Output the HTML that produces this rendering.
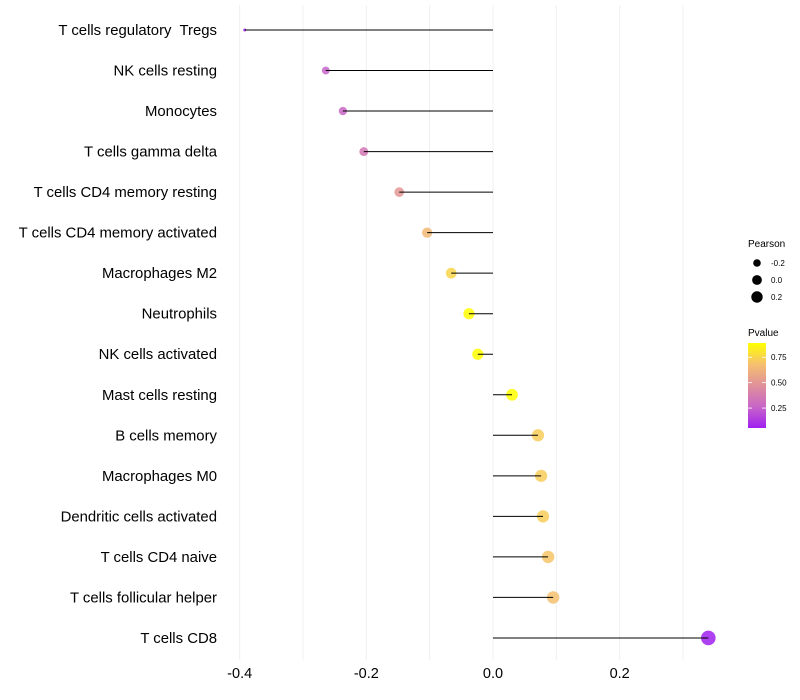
<!DOCTYPE html>
<html><head><meta charset="utf-8"><style>
body{margin:0;background:#fff;}
svg{display:block;font-family:"Liberation Sans",sans-serif;}
</style></head><body>
<svg id="chart" width="800" height="700">
<g id="grid"></g>
<g id="marks"></g>
<g id="labels"></g>
<g id="ticks"></g>
<g>
<text x="748" y="247" font-size="10" fill="#000">Pearson</text>
<g id="sizeLegend"></g>
</g>
<g>
<text x="748" y="336" font-size="10" fill="#000">Pvalue</text>
<defs><linearGradient id="pg" x1="0" y1="1" x2="0" y2="0">
<stop offset="0" stop-color="#a020f0"/><stop offset="0.25" stop-color="#c865c8"/><stop offset="0.5" stop-color="#e0909a"/><stop offset="0.75" stop-color="#f5c070"/><stop offset="1" stop-color="#ffff00"/></linearGradient></defs>
<rect x="748" y="343" width="18" height="85" fill="url(#pg)"/>
<g id="cbTicks"></g>
</g>
</svg>
<script>
const categories=["T cells regulatory\u00a0 Tregs","NK cells resting","Monocytes","T cells gamma delta","T cells CD4 memory resting","T cells CD4 memory activated","Macrophages M2","Neutrophils","NK cells activated","Mast cells resting","B cells memory","Macrophages M0","Dendritic cells activated","T cells CD4 naive","T cells follicular helper","T cells CD8"];
const pearson=[-0.392,-0.264,-0.237,-0.204,-0.148,-0.104,-0.066,-0.038,-0.024,0.030,0.071,0.076,0.079,0.087,0.095,0.340];
const pvalues=[0.05,0.25,0.27,0.35,0.5,0.65,0.75,0.93,0.97,0.95,0.72,0.72,0.72,0.7,0.68,0.03];
const xTicks=[-0.4,-0.2,0.0,0.2];
const xGrid=[-0.4,-0.3,-0.2,-0.1,0.0,0.1,0.2,0.3];
const sizeLegendValues=[-0.2,0.0,0.2];
const cbTickValues=[0.25,0.5,0.75];

const NS="http://www.w3.org/2000/svg";
function x(v){return 493+v*633.3;}
function y(i){return 30+i*40.53;}
function r(v){return 1.5+5.8*Math.sqrt(Math.max(0,(v+0.392)/0.732));}
function cbY(p){return 428-(p-0.054)/0.836*85;}
function hex(c){return [parseInt(c.slice(1,3),16),parseInt(c.slice(3,5),16),parseInt(c.slice(5,7),16)];}
const stops=["#a020f0","#c865c8","#e0909a","#f5c070","#ffff00"].map(hex);
function col(p){const t=Math.max(0,Math.min(1,(p-0.054)/0.836));
 const f=t*4,k=Math.min(3,Math.floor(f)),u=f-k,s=stops[k],e=stops[k+1];
 return "rgb("+s.map((v,j)=>Math.round(v+(e[j]-v)*u)).join(",")+")";}
function mk(tag,at,parent,text){const el=document.createElementNS(NS,tag);for(const k in at)el.setAttribute(k,at[k]);if(text!=null)el.textContent=text;parent.appendChild(el);return el;}

const grid=document.getElementById("grid");
xGrid.forEach(v=>{const l=mk("line",{x1:x(v),x2:x(v),y1:5,y2:660,stroke:"#f0f0f0","stroke-width":1},grid);

});
const ticks=document.getElementById("ticks");
xTicks.forEach(v=>{const t=mk("text",{x:x(v),y:678,"font-size":14.5,"text-anchor":"middle",fill:"#000"},ticks,v.toFixed(1));

});
const marks=document.getElementById("marks"),labels=document.getElementById("labels");
categories.forEach((c,i)=>{
 const pt=mk("circle",{cx:x(pearson[i]),cy:y(i),r:r(pearson[i]),fill:col(pvalues[i]),"fill-opacity":0.85},marks);
 
 
 const ln=mk("line",{x1:x(0),x2:x(pearson[i]),y1:y(i),y2:y(i),stroke:"#000","stroke-width":1},marks);
 
 
 const lb=mk("text",{x:217,y:y(i)+5,"font-size":14.9,"text-anchor":"end",fill:"#000"},labels,c);
 
 
});
const sl=document.getElementById("sizeLegend");
sizeLegendValues.forEach((v,k)=>{const yy=263+k*17;
 const c=mk("circle",{cx:757,cy:yy,r:r(v)*0.85,fill:"#000"},sl);
 
 
 const t=mk("text",{x:771,y:yy+3,"font-size":8,fill:"#000"},sl,v.toFixed(1));
 
 });
const cb=document.getElementById("cbTicks");
cbTickValues.forEach(p=>{const yy=cbY(p);
 mk("line",{x1:748,x2:752,y1:yy,y2:yy,stroke:"#fff","stroke-width":0.8},cb);
 mk("line",{x1:762,x2:766,y1:yy,y2:yy,stroke:"#fff","stroke-width":0.8},cb);
 const t=mk("text",{x:771,y:yy+3,"font-size":8,fill:"#000"},cb,p.toFixed(2));
 
 });
</script>
</body></html>
